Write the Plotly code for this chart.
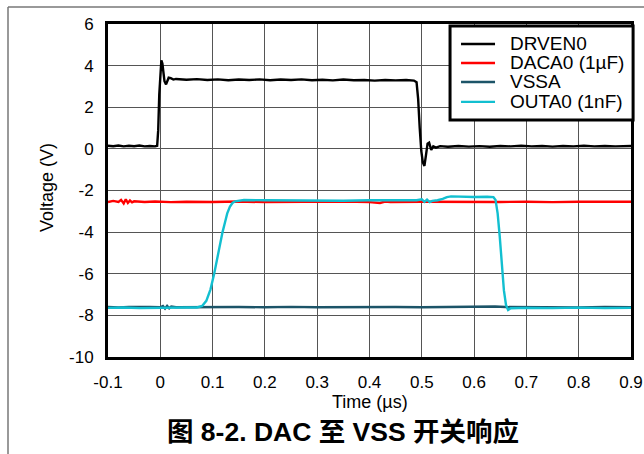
import plotly.graph_objects as go

# ---------------- data ----------------
drven_t = [-0.1, -0.09, -0.08, -0.07, -0.06, -0.05, -0.04, -0.03, -0.02, -0.01, -0.006,
           -0.004, -0.002, 0.0, 0.002, 0.004, 0.006, 0.008, 0.011, 0.013, 0.016, 0.02, 0.025,
           0.03, 0.05, 0.07, 0.09, 0.11, 0.13, 0.15, 0.17, 0.19, 0.21, 0.23, 0.25, 0.27, 0.29,
           0.31, 0.33, 0.35, 0.37, 0.39, 0.41, 0.43, 0.45, 0.47, 0.485, 0.49, 0.493, 0.496,
           0.499, 0.502, 0.505, 0.508, 0.511, 0.514, 0.518, 0.522, 0.527, 0.535, 0.55, 0.57,
           0.59, 0.61, 0.63, 0.65, 0.67, 0.69, 0.71, 0.73, 0.75, 0.77, 0.79, 0.81, 0.83, 0.85,
           0.87, 0.9]
drven_v = [0.15, 0.13, 0.16, 0.12, 0.15, 0.13, 0.16, 0.12, 0.14, 0.12, 0.15,
           0.9, 2.6, 3.8, 4.25, 4.1, 3.6, 3.25, 3.1, 3.2, 3.42, 3.4, 3.33,
           3.36, 3.32, 3.35, 3.31, 3.34, 3.3, 3.33, 3.31, 3.34, 3.3, 3.33, 3.31, 3.34, 3.3,
           3.32, 3.29, 3.33, 3.3, 3.31, 3.28, 3.31, 3.29, 3.31, 3.28, 3.2, 2.4, 1.0,
           -0.1, -0.65, -0.82, -0.3, 0.25, 0.3, -0.05, 0.12, 0.06, 0.13, 0.1, 0.14,
           0.11, 0.13, 0.1, 0.14, 0.12, 0.15, 0.12, 0.14, 0.11, 0.14, 0.12, 0.15, 0.12, 0.14,
           0.12, 0.14]

daca_t = [-0.1, -0.09, -0.08, -0.075, -0.07, -0.066, -0.062, -0.058, -0.054, -0.05, -0.03,
          -0.01, 0.02, 0.05, 0.1, 0.15, 0.2, 0.25, 0.3, 0.35, 0.4, 0.42, 0.43, 0.44, 0.5,
          0.55, 0.6, 0.65, 0.7, 0.75, 0.8, 0.85, 0.9]
daca_v = [-2.55, -2.5, -2.55, -2.45, -2.62, -2.42, -2.6, -2.48, -2.57, -2.52, -2.55,
          -2.53, -2.56, -2.54, -2.55, -2.53, -2.56, -2.54, -2.55, -2.53, -2.56, -2.6, -2.53, -2.55, -2.54,
          -2.55, -2.53, -2.55, -2.54, -2.56, -2.54, -2.55, -2.54]

vssa_t = [-0.1, -0.08, -0.06, -0.04, -0.02, 0.0, 0.005, 0.009, 0.013, 0.017, 0.021, 0.03,
          0.06, 0.1, 0.15, 0.2, 0.25, 0.3, 0.35, 0.4, 0.45, 0.5, 0.55, 0.6, 0.64, 0.66,
          0.7, 0.75, 0.8, 0.85, 0.9]
vssa_v = [-7.6, -7.62, -7.59, -7.61, -7.6, -7.61, -7.55, -7.67, -7.54, -7.66, -7.58, -7.61,
          -7.6, -7.62, -7.6, -7.61, -7.59, -7.61, -7.6, -7.62, -7.6, -7.61, -7.59, -7.6, -7.57, -7.6,
          -7.61, -7.6, -7.62, -7.6, -7.61]

outa_t = [-0.1, -0.07, -0.04, -0.01, 0.02, 0.05, 0.07, 0.08, 0.088, 0.096, 0.103, 0.109,
          0.114, 0.119, 0.124, 0.128, 0.133, 0.138, 0.143, 0.15, 0.16, 0.2, 0.25, 0.3, 0.35,
          0.4, 0.45, 0.49, 0.5, 0.505, 0.51, 0.515, 0.52, 0.53, 0.54, 0.548, 0.556, 0.57,
          0.6, 0.625, 0.637, 0.641, 0.645, 0.649, 0.653, 0.657, 0.661, 0.665, 0.67, 0.7,
          0.75, 0.8, 0.85, 0.9]
outa_v = [-7.64, -7.62, -7.65, -7.63, -7.64, -7.62, -7.62, -7.55, -7.3, -6.75, -6.0, -5.2,
          -4.55, -4.0, -3.5, -3.1, -2.78, -2.6, -2.52, -2.48, -2.46, -2.47, -2.48, -2.47, -2.49,
          -2.47, -2.48, -2.47, -2.42, -2.55, -2.44, -2.56, -2.5, -2.47, -2.4, -2.32, -2.28, -2.3,
          -2.31, -2.3, -2.32, -2.45, -3.1, -4.2, -5.6, -6.8, -7.5, -7.74, -7.66, -7.64,
          -7.65, -7.63, -7.65, -7.64]

x_ticks = [-0.1, 0, 0.1, 0.2, 0.3, 0.4, 0.5, 0.6, 0.7, 0.8, 0.9]
y_ticks = [-10, -8, -6, -4, -2, 0, 2, 4, 6]

series_names = ["DRVEN0", "DACA0 (1µF)", "VSSA", "OUTA0 (1nF)"]
series_t = [drven_t, daca_t, vssa_t, outa_t]
series_v = [drven_v, daca_v, vssa_v, outa_v]
series_colors = ["#000000", "#ff0000", "#1c5468", "#12bfd0"]

FONT = "Arial, 'Liberation Sans', sans-serif"

fig = go.Figure()
# draw order: red, vssa, cyan, then black on top
for i in [1, 2, 3, 0]:
    fig.add_trace(go.Scatter(x=series_t[i], y=series_v[i], mode="lines",
                             name=series_names[i], showlegend=False,
                             line=dict(color=series_colors[i], width=2.4)))

fig.update_layout(
    width=644, height=454,
    margin=dict(l=108, r=13, t=24, b=97),
    paper_bgcolor="white", plot_bgcolor="white",
    font=dict(family=FONT, size=17, color="#000000"),
    showlegend=False,
    xaxis=dict(range=[-0.1, 0.9], tickvals=x_ticks,
               ticktext=[("%g" % v) for v in x_ticks],
               showgrid=True, gridcolor="#555555", gridwidth=1,
               showline=True, linecolor="black", linewidth=3, mirror=True,
               ticks="", zeroline=False, automargin=False, ticklabelstandoff=8),
    yaxis=dict(range=[-10, 6], tickvals=y_ticks,
               ticktext=[("%g" % v) for v in y_ticks],
               showgrid=True, gridcolor="#555555", gridwidth=1,
               showline=True, linecolor="black", linewidth=3, mirror=True,
               ticks="", zeroline=False, automargin=False, ticklabelstandoff=8),
)

# axis titles
fig.add_annotation(text="Time (µs)", xref="paper", yref="paper", x=0.501, y=-0.135,
                   xanchor="center", yanchor="middle", showarrow=False,
                   font=dict(family=FONT, size=18))
fig.add_annotation(text="Voltage (V)", xref="paper", yref="paper", x=-0.1166, y=0.5075,
                   xanchor="center", yanchor="middle", showarrow=False, textangle=-90,
                   font=dict(family=FONT, size=18))

# legend box (manual, to match the reference's tight row spacing)
fig.add_shape(type="rect", xref="paper", yref="paper", x0=0.654, x1=1.004, y0=0.712, y1=0.994,
              fillcolor="white", line=dict(color="black", width=3), layer="above")
row_y = [0.940, 0.883, 0.826, 0.766]
for name, c, ry in zip(series_names, series_colors, row_y):
    fig.add_shape(type="line", xref="paper", yref="paper", x0=0.675, x1=0.740, y0=ry, y1=ry,
                  line=dict(color=c, width=2.4), layer="above")
    fig.add_annotation(text=name, xref="paper", yref="paper", x=0.765, y=ry,
                       xanchor="left", yanchor="middle", showarrow=False,
                       font=dict(family=FONT, size=19, color="#000000"))

# outer page frame lines (top and left)
fig.add_shape(type="line", xref="paper", yref="paper",
              x0=-0.1912, x1=1.03, y0=1.051, y1=1.051,
              line=dict(color="#777777", width=1.5))
fig.add_shape(type="line", xref="paper", yref="paper",
              x0=-0.1912, x1=-0.1912, y0=1.051, y1=-0.30,
              line=dict(color="#777777", width=1.5))

fig.add_annotation(text="<b>图 8-2. DAC 至 VSS 开关响应</b>",
                   xref="paper", yref="paper", x=0.449, y=-0.225,
                   xanchor="center", yanchor="middle", showarrow=False,
                   font=dict(family="Arial, 'Liberation Sans', 'Noto Sans CJK SC', sans-serif",
                             size=26.5, color="#000000"))

fig.write_html("out.html", config={"displayModeBar": False},
               post_script="document.body.style.margin='0px';document.body.style.overflow='hidden';")
